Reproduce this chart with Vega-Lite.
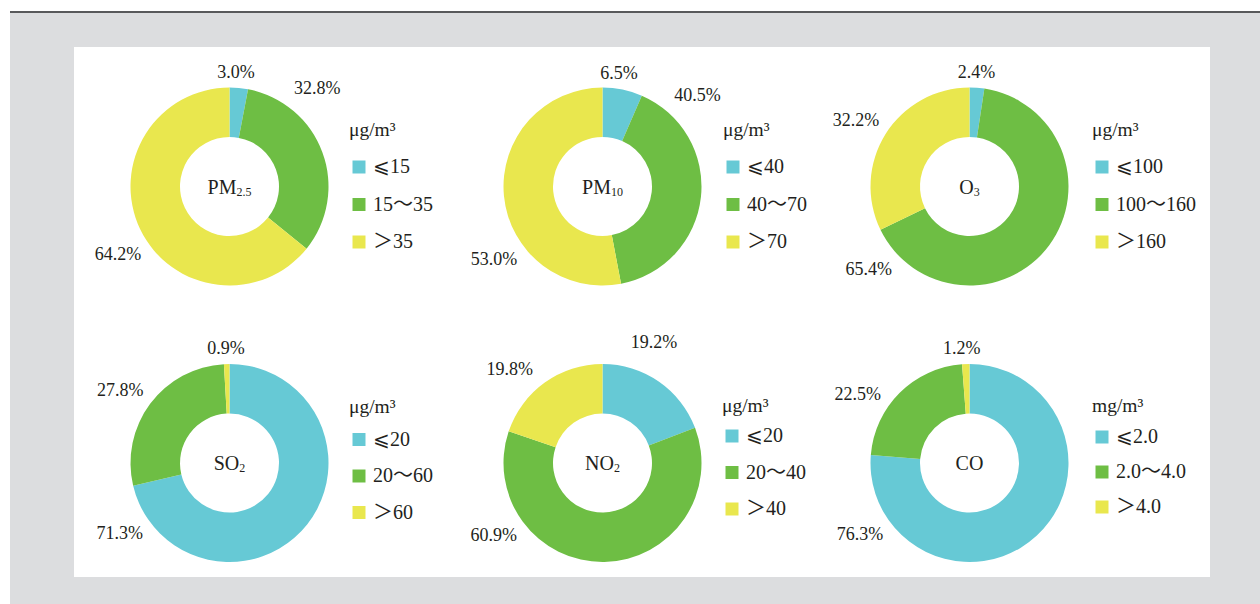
{
  "$schema": "https://vega.github.io/schema/vega-lite/v6.json",
  "background": "white",
  "padding": {"left": 10, "top": 11, "right": 0, "bottom": 0},
  "columns": 8,
  "spacing": 0,
  "bounds": "flush",
  "resolve": {"scale": {"color": "independent", "theta": "independent"}, "legend": {"color": "independent"}},
  "config": {
    "view": {"stroke": null},
    "font": "Liberation Serif",
    "concat": {"spacing": 0},
    "text": {"font": "Liberation Serif", "color": "#231f20", "baseline": "middle", "align": "center"},
    "legend": {
      "titleFont": "Liberation Serif", "titleFontSize": 19.5, "titleFontWeight": "normal", "titleColor": "#231f20",
      "labelFont": "Liberation Serif, DejaVu Serif, Noto Sans CJK SC", "labelFontSize": 20, "labelColor": "#231f20",
      "symbolType": "square", "symbolSize": 169, "symbolStrokeWidth": 0, "labelOffset": 4,
      "padding": 0, "rowPadding": 17.5, "titlePadding": 16.5
    }
  },
  "data": {"values": [
    {"pollutant": "PM2.5", "name": "PM", "sub": "2.5", "cat": "⩽15", "rank": 1, "share": 0.030},
    {"pollutant": "PM2.5", "name": "PM", "sub": "2.5", "cat": "15～35", "rank": 2, "share": 0.328},
    {"pollutant": "PM2.5", "name": "PM", "sub": "2.5", "cat": "＞35", "rank": 3, "share": 0.642},
    {"pollutant": "PM10", "name": "PM", "sub": "10", "cat": "⩽40", "rank": 1, "share": 0.065},
    {"pollutant": "PM10", "name": "PM", "sub": "10", "cat": "40～70", "rank": 2, "share": 0.405},
    {"pollutant": "PM10", "name": "PM", "sub": "10", "cat": "＞70", "rank": 3, "share": 0.530},
    {"pollutant": "O3", "name": "O", "sub": "3", "cat": "⩽100", "rank": 1, "share": 0.024},
    {"pollutant": "O3", "name": "O", "sub": "3", "cat": "100～160", "rank": 2, "share": 0.654},
    {"pollutant": "O3", "name": "O", "sub": "3", "cat": "＞160", "rank": 3, "share": 0.322},
    {"pollutant": "SO2", "name": "SO", "sub": "2", "cat": "⩽20", "rank": 1, "share": 0.713},
    {"pollutant": "SO2", "name": "SO", "sub": "2", "cat": "20～60", "rank": 2, "share": 0.278},
    {"pollutant": "SO2", "name": "SO", "sub": "2", "cat": "＞60", "rank": 3, "share": 0.009},
    {"pollutant": "NO2", "name": "NO", "sub": "2", "cat": "⩽20", "rank": 1, "share": 0.192},
    {"pollutant": "NO2", "name": "NO", "sub": "2", "cat": "20～40", "rank": 2, "share": 0.609},
    {"pollutant": "NO2", "name": "NO", "sub": "2", "cat": "＞40", "rank": 3, "share": 0.198},
    {"pollutant": "CO", "name": "CO", "sub": "", "cat": "⩽2.0", "rank": 1, "share": 0.763},
    {"pollutant": "CO", "name": "CO", "sub": "", "cat": "2.0～4.0", "rank": 2, "share": 0.225},
    {"pollutant": "CO", "name": "CO", "sub": "", "cat": "＞4.0", "rank": 3, "share": 0.012}
  ]},
  "concat": [
    {"width": 64, "height": 2, "data": {"values": []}, "mark": "rect", "view": {"fill": "#58595b"}},
    {"width": 311, "height": 2, "data": {"values": []}, "mark": "rect", "view": {"fill": "#58595b"}},
    {"width": 68, "height": 2, "data": {"values": []}, "mark": "rect", "view": {"fill": "#58595b"}},
    {"width": 299, "height": 2, "data": {"values": []}, "mark": "rect", "view": {"fill": "#58595b"}},
    {"width": 80, "height": 2, "data": {"values": []}, "mark": "rect", "view": {"fill": "#58595b"}},
    {"width": 275, "height": 2, "data": {"values": []}, "mark": "rect", "view": {"fill": "#58595b"}},
    {"width": 103, "height": 2, "data": {"values": []}, "mark": "rect", "view": {"fill": "#58595b"}},
    {"width": 50, "height": 2, "data": {"values": []}, "mark": "rect", "view": {"fill": "#58595b"}},

    {"width": 64, "height": 34, "data": {"values": []}, "mark": "rect", "view": {"fill": "#dcdddf"}},
    {"width": 311, "height": 34, "data": {"values": []}, "mark": "rect", "view": {"fill": "#dcdddf"}},
    {"width": 68, "height": 34, "data": {"values": []}, "mark": "rect", "view": {"fill": "#dcdddf"}},
    {"width": 299, "height": 34, "data": {"values": []}, "mark": "rect", "view": {"fill": "#dcdddf"}},
    {"width": 80, "height": 34, "data": {"values": []}, "mark": "rect", "view": {"fill": "#dcdddf"}},
    {"width": 275, "height": 34, "data": {"values": []}, "mark": "rect", "view": {"fill": "#dcdddf"}},
    {"width": 103, "height": 34, "data": {"values": []}, "mark": "rect", "view": {"fill": "#dcdddf"}},
    {"width": 50, "height": 34, "data": {"values": []}, "mark": "rect", "view": {"fill": "#dcdddf"}},

    {"width": 64, "height": 279, "data": {"values": []}, "mark": "rect", "view": {"fill": "#dcdddf"}},
    {
      "width": 311, "height": 279,
      "transform": [{"filter": "datum.pollutant === 'PM2.5'"}],
      "layer": [
        {"mark": {"type": "arc", "innerRadius": 49.5, "outerRadius": 99},
         "encoding": {
           "theta": {"field": "share", "type": "quantitative", "stack": true},
           "order": {"field": "rank", "type": "quantitative"},
           "color": {"field": "cat", "type": "nominal", "sort": {"field": "rank", "op": "min"}, "scale": {"range": ["#66c9d5", "#6ebe44", "#e9e74e"]}, "title": "μg/m³", "legend": {"orient": "none", "legendX": 275, "legendY": 74}}
         }},
        {"mark": {"type": "text", "fontSize": 18, "radius": {"expr": "datum.share < 0.1 ? 114 : 131"}},
         "encoding": {
           "theta": {"field": "share", "type": "quantitative", "stack": true, "scale": {"domain": [0, 0.015, 0.194, 0.679, 1], "range": [0, 0.0576, 0.7348, 4.1591, 6.2832], "zero": false, "nice": false}},
           "order": {"field": "rank", "type": "quantitative"},
           "detail": {"field": "cat", "type": "nominal"},
           "text": {"field": "share", "type": "quantitative", "format": ".1%"}
         }},
        {"transform": [{"filter": "datum.rank === 1"}],
         "mark": {"type": "text", "fontSize": 20, "align": "right", "baseline": "alphabetic", "dx": 7, "dy": 7},
         "encoding": {"text": {"field": "name", "type": "nominal"}}},
        {"transform": [{"filter": "datum.rank === 1"}],
         "mark": {"type": "text", "fontSize": 12, "align": "left", "baseline": "alphabetic", "dx": 7, "dy": 9},
         "encoding": {"text": {"field": "sub", "type": "nominal"}}}
      ],
      "resolve": {"scale": {"theta": "independent"}}
    },
    {"width": 68, "height": 279, "data": {"values": []}, "mark": "point"},
    {
      "width": 299, "height": 279,
      "transform": [{"filter": "datum.pollutant === 'PM10'"}],
      "layer": [
        {"mark": {"type": "arc", "innerRadius": 49.5, "outerRadius": 99},
         "encoding": {
           "theta": {"field": "share", "type": "quantitative", "stack": true},
           "order": {"field": "rank", "type": "quantitative"},
           "color": {"field": "cat", "type": "nominal", "sort": {"field": "rank", "op": "min"}, "scale": {"range": ["#66c9d5", "#6ebe44", "#e9e74e"]}, "title": "μg/m³", "legend": {"orient": "none", "legendX": 270, "legendY": 74}}
         }},
        {"mark": {"type": "text", "fontSize": 18, "radius": {"expr": "datum.share < 0.1 ? 114 : 131"}},
         "encoding": {
           "theta": {"field": "share", "type": "quantitative", "stack": true, "scale": {"domain": [0, 0.0325, 0.2675, 0.735, 1], "range": [0, 0.1449, 0.8116, 4.1172, 6.2832], "zero": false, "nice": false}},
           "order": {"field": "rank", "type": "quantitative"},
           "detail": {"field": "cat", "type": "nominal"},
           "text": {"field": "share", "type": "quantitative", "format": ".1%"}
         }},
        {"transform": [{"filter": "datum.rank === 1"}],
         "mark": {"type": "text", "fontSize": 20, "align": "right", "baseline": "alphabetic", "dx": 8.5, "dy": 7},
         "encoding": {"text": {"field": "name", "type": "nominal"}}},
        {"transform": [{"filter": "datum.rank === 1"}],
         "mark": {"type": "text", "fontSize": 12, "align": "left", "baseline": "alphabetic", "dx": 8.5, "dy": 9},
         "encoding": {"text": {"field": "sub", "type": "nominal"}}}
      ],
      "resolve": {"scale": {"theta": "independent"}}
    },
    {"width": 80, "height": 279, "data": {"values": []}, "mark": "point"},
    {
      "width": 275, "height": 279,
      "transform": [{"filter": "datum.pollutant === 'O3'"}],
      "layer": [
        {"mark": {"type": "arc", "innerRadius": 49.5, "outerRadius": 99},
         "encoding": {
           "theta": {"field": "share", "type": "quantitative", "stack": true},
           "order": {"field": "rank", "type": "quantitative"},
           "color": {"field": "cat", "type": "nominal", "sort": {"field": "rank", "op": "min"}, "scale": {"range": ["#66c9d5", "#6ebe44", "#e9e74e"]}, "title": "μg/m³", "legend": {"orient": "none", "legendX": 260, "legendY": 74}}
         }},
        {"mark": {"type": "text", "fontSize": 18, "radius": {"expr": "datum.share < 0.1 ? 114 : 131"}},
         "encoding": {
           "theta": {"field": "share", "type": "quantitative", "stack": true, "scale": {"domain": [0, 0.012, 0.351, 0.839, 1], "range": [0, 0.0611, 4.0195, 5.2360, 6.2832], "zero": false, "nice": false}},
           "order": {"field": "rank", "type": "quantitative"},
           "detail": {"field": "cat", "type": "nominal"},
           "text": {"field": "share", "type": "quantitative", "format": ".1%"}
         }},
        {"transform": [{"filter": "datum.rank === 1"}],
         "mark": {"type": "text", "fontSize": 20, "align": "right", "baseline": "alphabetic", "dx": 4.2, "dy": 7},
         "encoding": {"text": {"field": "name", "type": "nominal"}}},
        {"transform": [{"filter": "datum.rank === 1"}],
         "mark": {"type": "text", "fontSize": 12, "align": "left", "baseline": "alphabetic", "dx": 4.2, "dy": 9},
         "encoding": {"text": {"field": "sub", "type": "nominal"}}}
      ],
      "resolve": {"scale": {"theta": "independent"}}
    },
    {"width": 103, "height": 279, "data": {"values": []}, "mark": "point"},
    {"width": 50, "height": 279, "data": {"values": []}, "mark": "rect", "view": {"fill": "#dcdddf"}},

    {"width": 64, "height": 23, "data": {"values": []}, "mark": "rect", "view": {"fill": "#dcdddf"}},
    {"width": 311, "height": 23, "data": {"values": []}, "mark": "point"},
    {"width": 68, "height": 23, "data": {"values": []}, "mark": "point"},
    {"width": 299, "height": 23, "data": {"values": []}, "mark": "point"},
    {"width": 80, "height": 23, "data": {"values": []}, "mark": "point"},
    {"width": 275, "height": 23, "data": {"values": []}, "mark": "point"},
    {"width": 103, "height": 23, "data": {"values": []}, "mark": "point"},
    {"width": 50, "height": 23, "data": {"values": []}, "mark": "rect", "view": {"fill": "#dcdddf"}},

    {"width": 64, "height": 228, "data": {"values": []}, "mark": "rect", "view": {"fill": "#dcdddf"}},
    {
      "width": 311, "height": 228,
      "transform": [{"filter": "datum.pollutant === 'SO2'"}],
      "layer": [
        {"mark": {"type": "arc", "innerRadius": 49.5, "outerRadius": 99},
         "encoding": {
           "theta": {"field": "share", "type": "quantitative", "stack": true},
           "order": {"field": "rank", "type": "quantitative"},
           "color": {"field": "cat", "type": "nominal", "sort": {"field": "rank", "op": "min"}, "scale": {"range": ["#66c9d5", "#6ebe44", "#e9e74e"]}, "title": "μg/m³", "legend": {"orient": "none", "legendX": 275, "legendY": 49, "titlePadding": 12, "rowPadding": 16.5}}
         }},
        {"mark": {"type": "text", "fontSize": 18, "radius": {"expr": "datum.share < 0.1 ? 114 : 131"}},
         "encoding": {
           "theta": {"field": "share", "type": "quantitative", "stack": true, "scale": {"domain": [0, 0.3565, 0.852, 0.9955, 1], "range": [0, 4.1364, 5.2953, 6.2527, 6.2832], "zero": false, "nice": false}},
           "order": {"field": "rank", "type": "quantitative"},
           "detail": {"field": "cat", "type": "nominal"},
           "text": {"field": "share", "type": "quantitative", "format": ".1%"}
         }},
        {"transform": [{"filter": "datum.rank === 1"}],
         "mark": {"type": "text", "fontSize": 20, "align": "right", "baseline": "alphabetic", "dx": 9.8, "dy": 7},
         "encoding": {"text": {"field": "name", "type": "nominal"}}},
        {"transform": [{"filter": "datum.rank === 1"}],
         "mark": {"type": "text", "fontSize": 12, "align": "left", "baseline": "alphabetic", "dx": 9.8, "dy": 9},
         "encoding": {"text": {"field": "sub", "type": "nominal"}}}
      ],
      "resolve": {"scale": {"theta": "independent"}}
    },
    {"width": 68, "height": 228, "data": {"values": []}, "mark": "point"},
    {
      "width": 299, "height": 228,
      "transform": [{"filter": "datum.pollutant === 'NO2'"}],
      "layer": [
        {"mark": {"type": "arc", "innerRadius": 49.5, "outerRadius": 99},
         "encoding": {
           "theta": {"field": "share", "type": "quantitative", "stack": true},
           "order": {"field": "rank", "type": "quantitative"},
           "color": {"field": "cat", "type": "nominal", "sort": {"field": "rank", "op": "min"}, "scale": {"range": ["#66c9d5", "#6ebe44", "#e9e74e"]}, "title": "μg/m³", "legend": {"orient": "none", "legendX": 269, "legendY": 48, "titlePadding": 9.5, "rowPadding": 16.5}}
         }},
        {"mark": {"type": "text", "fontSize": 18, "radius": {"expr": "datum.share < 0.1 ? 114 : 131"}},
         "encoding": {
           "theta": {"field": "share", "type": "quantitative", "stack": true, "scale": {"domain": [0, 0.096, 0.4965, 0.9, 1], "range": [0, 0.4049, 4.1225, 5.4978, 6.2832], "zero": false, "nice": false}},
           "order": {"field": "rank", "type": "quantitative"},
           "detail": {"field": "cat", "type": "nominal"},
           "text": {"field": "share", "type": "quantitative", "format": ".1%"}
         }},
        {"transform": [{"filter": "datum.rank === 1"}],
         "mark": {"type": "text", "fontSize": 20, "align": "right", "baseline": "alphabetic", "dx": 11.4, "dy": 7},
         "encoding": {"text": {"field": "name", "type": "nominal"}}},
        {"transform": [{"filter": "datum.rank === 1"}],
         "mark": {"type": "text", "fontSize": 12, "align": "left", "baseline": "alphabetic", "dx": 11.4, "dy": 9},
         "encoding": {"text": {"field": "sub", "type": "nominal"}}}
      ],
      "resolve": {"scale": {"theta": "independent"}}
    },
    {"width": 80, "height": 228, "data": {"values": []}, "mark": "point"},
    {
      "width": 275, "height": 228,
      "transform": [{"filter": "datum.pollutant === 'CO'"}],
      "layer": [
        {"mark": {"type": "arc", "innerRadius": 49.5, "outerRadius": 99},
         "encoding": {
           "theta": {"field": "share", "type": "quantitative", "stack": true},
           "order": {"field": "rank", "type": "quantitative"},
           "color": {"field": "cat", "type": "nominal", "sort": {"field": "rank", "op": "min"}, "scale": {"range": ["#66c9d5", "#6ebe44", "#e9e74e"]}, "title": "mg/m³", "legend": {"orient": "none", "legendX": 260, "legendY": 48, "titlePadding": 10.5, "rowPadding": 15}}
         }},
        {"mark": {"type": "text", "fontSize": 18, "radius": {"expr": "datum.share < 0.1 ? 114 : 131"}},
         "encoding": {
           "theta": {"field": "share", "type": "quantitative", "stack": true, "scale": {"domain": [0, 0.3815, 0.8755, 0.994, 1], "range": [0, 4.1329, 5.2604, 6.2151, 6.2832], "zero": false, "nice": false}},
           "order": {"field": "rank", "type": "quantitative"},
           "detail": {"field": "cat", "type": "nominal"},
           "text": {"field": "share", "type": "quantitative", "format": ".1%"}
         }},
        {"transform": [{"filter": "datum.rank === 1"}],
         "mark": {"type": "text", "fontSize": 20, "align": "right", "baseline": "alphabetic", "dx": 13.9, "dy": 7},
         "encoding": {"text": {"field": "name", "type": "nominal"}}},
        {"transform": [{"filter": "datum.rank === 1"}],
         "mark": {"type": "text", "fontSize": 12, "align": "left", "baseline": "alphabetic", "dx": 13.9, "dy": 9},
         "encoding": {"text": {"field": "sub", "type": "nominal"}}}
      ],
      "resolve": {"scale": {"theta": "independent"}}
    },
    {"width": 103, "height": 228, "data": {"values": []}, "mark": "point"},
    {"width": 50, "height": 228, "data": {"values": []}, "mark": "rect", "view": {"fill": "#dcdddf"}},

    {"width": 64, "height": 27, "data": {"values": []}, "mark": "rect", "view": {"fill": "#dcdddf"}},
    {"width": 311, "height": 27, "data": {"values": []}, "mark": "rect", "view": {"fill": "#dcdddf"}},
    {"width": 68, "height": 27, "data": {"values": []}, "mark": "rect", "view": {"fill": "#dcdddf"}},
    {"width": 299, "height": 27, "data": {"values": []}, "mark": "rect", "view": {"fill": "#dcdddf"}},
    {"width": 80, "height": 27, "data": {"values": []}, "mark": "rect", "view": {"fill": "#dcdddf"}},
    {"width": 275, "height": 27, "data": {"values": []}, "mark": "rect", "view": {"fill": "#dcdddf"}},
    {"width": 103, "height": 27, "data": {"values": []}, "mark": "rect", "view": {"fill": "#dcdddf"}},
    {"width": 50, "height": 27, "data": {"values": []}, "mark": "rect", "view": {"fill": "#dcdddf"}}
  ]
}
